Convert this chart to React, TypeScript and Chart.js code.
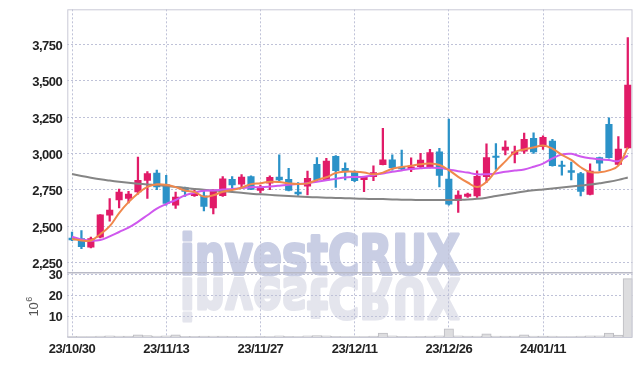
import React, { useEffect, useRef } from 'react';
import { Chart, registerables } from 'chart.js';

Chart.register(...registerables);

const dates = ['23/10/30','23/10/31','23/11/01','23/11/02','23/11/03','23/11/06','23/11/07','23/11/08','23/11/09','23/11/10',
  '23/11/13','23/11/14','23/11/15','23/11/16','23/11/17','23/11/20','23/11/21','23/11/22','23/11/23','23/11/24',
  '23/11/27','23/11/28','23/11/29','23/11/30','23/12/01','23/12/04','23/12/05','23/12/06','23/12/07','23/12/08',
  '23/12/11','23/12/12','23/12/13','23/12/14','23/12/15','23/12/18','23/12/19','23/12/20','23/12/21','23/12/22',
  '23/12/26','23/12/27','23/12/28','24/01/02','24/01/03','24/01/04','24/01/05','24/01/08','24/01/09','24/01/10',
  '24/01/11','24/01/12','24/01/15','24/01/16','24/01/17','24/01/18','24/01/19','24/01/22','24/01/23','24/01/24'];

const opens = [2418,2415,2355,2425,2575,2680,2690,2735,2815,2865,
  2785,2645,2765,2710,2708,2625,2710,2822,2788,2840,
  2745,2795,2838,2822,2735,2775,2925,2818,2980,2897,
  2868,2820,2840,2922,2955,2906,2892,2908,2908,3010,
  2823,2676,2705,2707,2840,2977,3023,2993,3015,3103,
  3046,3084,2920,2882,2862,2718,2972,3200,2925,3038];
const highs = [2460,2470,2425,2580,2690,2755,2740,2975,2875,2885,
  2850,2735,2768,2760,2740,2752,2840,2840,2855,2845,
  2782,2845,2990,2897,2800,2878,2972,2966,2985,2935,
  2880,2840,2915,3172,2990,3022,2970,3000,3028,3035,
  3235,2743,2728,2880,3065,3068,3087,3050,3140,3142,
  3120,3096,2947,2940,2870,2928,2975,3245,3115,3795];
const lows = [2400,2345,2350,2420,2535,2625,2660,2720,2690,2750,
  2645,2622,2705,2705,2605,2585,2705,2765,2770,2750,
  2728,2750,2805,2742,2712,2714,2805,2815,2767,2817,
  2805,2737,2812,2920,2885,2885,2875,2895,2900,2770,
  2645,2595,2698,2698,2800,2890,2990,2935,3000,3000,
  3028,2912,2850,2817,2708,2715,2880,2968,2920,3035];
const closes = [2405,2360,2415,2578,2610,2735,2720,2815,2862,2770,
  2657,2700,2738,2725,2635,2748,2825,2783,2838,2752,
  2768,2835,2818,2745,2722,2828,2818,2947,2882,2874,
  2812,2835,2868,2955,2902,2893,2908,2954,3005,2848,
  2652,2714,2720,2843,2972,2972,3043,3010,3096,3010,
  3110,2915,2910,2870,2738,2878,2932,2970,3030,3470];

const ma5 = [2412,2402,2402,2445,2500,2590,2665,2725,2770,2788,
  2784,2768,2745,2735,2703,2712,2737,2748,2764,2789,
  2795,2805,2803,2794,2789,2794,2817,2836,2865,2874,
  2874,2869,2856,2868,2894,2906,2915,2926,2931,2920,
  2885,2839,2800,2769,2805,2880,2945,3008,3027,3040,
  3054,3032,2990,2955,2905,2872,2870,2883,2916,3040];
const ma20 = [2427,2409,2400,2405,2430,2460,2490,2530,2575,2620,
  2652,2680,2712,2730,2743,2745,2752,2756,2762,2768,
  2768,2772,2778,2785,2790,2795,2805,2815,2825,2835,
  2838,2840,2850,2862,2874,2883,2893,2898,2902,2900,
  2890,2878,2868,2856,2857,2862,2874,2882,2890,2908,
  2930,2966,2992,2997,2978,2966,2960,2954,2947,2985];
const ma60 = [2858,2845,2833,2822,2813,2805,2798,2792,2787,2782,
  2776,2770,2763,2756,2750,2745,2740,2735,2730,2722,
  2719,2715,2711,2707,2704,2701,2698,2696,2694,2692,
  2690,2688,2687,2686,2684,2682,2681,2680,2680,2680,
  2680,2681,2683,2688,2696,2707,2717,2728,2738,2746,
  2752,2758,2765,2772,2779,2786,2795,2805,2818,2835];

// volume in millions of shares
const volumes = [0.3,0.2,0.2,0.5,0.6,0.5,0.4,1.0,0.7,0.5,
  0.6,1.0,0.3,0.3,0.4,0.5,0.4,0.3,0.2,0.2,
  0.3,0.2,0.6,0.3,0.2,0.6,0.7,0.6,0.3,0.2,
  0.2,0.2,0.4,1.9,0.6,0.3,0.2,0.3,0.5,0.6,
  3.9,0.6,0.4,0.5,1.5,0.5,0.4,0.4,1.0,0.5,
  0.4,0.5,0.2,0.2,0.5,0.6,0.6,1.9,0.9,28.0];

const priceTicks = [2250, 2500, 2750, 3000, 3250, 3500, 3750];
const volumeTicks = [10, 20, 30];

const RED = '#e11b68';
const BLUE = '#2b92c8';
const GRID = '#bfc2d8';
const FRAME = '#c9cad6';
const TEXT = '#222222';
const TICK_FONT = { family: '"Liberation Sans", Arial, sans-serif', size: 13, weight: 'bold' as const };

const noPad = (s: any) => {
  s.paddingTop = 0;
  s.paddingBottom = 0;
  s.paddingLeft = 0;
  s.paddingRight = 0;
};

const decorPlugin = {
  id: 'decor',
  beforeDraw(chart: any) {
    const c = chart.ctx as CanvasRenderingContext2D;
    c.save();
    (c as any).letterSpacing = '0px';
    c.font = 'bold 56px "DejaVu Sans", sans-serif';
    const text = 'investCRUX';
    const w = c.measureText(text).width;
    const sx = 280 / w;
    c.textBaseline = 'alphabetic';
    c.textAlign = 'left';
    c.lineJoin = 'round';
    c.save();
    c.translate(180, 274);
    c.scale(sx, 1);
    c.fillStyle = '#c9cee4';
    c.strokeStyle = '#c9cee4';
    c.lineWidth = 3;
    c.fillText(text, 0, 0);
    c.strokeText(text, 0, 0);
    c.restore();
    c.save();
    c.translate(180, 279);
    c.scale(sx, -1);
    c.fillStyle = '#e4e5ed';
    c.strokeStyle = '#e4e5ed';
    c.lineWidth = 3;
    c.fillText(text, 0, 0);
    c.strokeText(text, 0, 0);
    c.restore();
    c.restore();
    (c as any).letterSpacing = '-0.5px';
  },
  afterDatasetsDraw(chart: any) {
    const c = chart.ctx as CanvasRenderingContext2D;
    const a = chart.chartArea;
    const yScale = chart.scales.y;
    c.save();
    (c as any).letterSpacing = '0px';
    c.strokeStyle = FRAME;
    c.lineWidth = 1;
    c.strokeRect(a.left + 0.5, a.top + 0.5, a.right - a.left - 1, a.bottom - a.top);
    c.strokeStyle = '#b9bac6';
    c.lineWidth = 1.5;
    c.beginPath();
    c.moveTo(a.left, yScale.bottom);
    c.lineTo(a.right, yScale.bottom);
    c.stroke();
    // volume unit title
    const v = chart.scales.yVol;
    const cy = (v.top + v.bottom) / 2 + 2;
    c.translate(37.5, cy);
    c.rotate(-Math.PI / 2);
    c.fillStyle = '#555555';
    c.textBaseline = 'alphabetic';
    c.textAlign = 'left';
    c.font = '13px "Liberation Sans", Arial, sans-serif';
    const w10 = c.measureText('10').width;
    c.font = '9px "Liberation Sans", Arial, sans-serif';
    const w6 = c.measureText('6').width;
    const x0 = -(w10 + w6) / 2;
    c.font = '13px "Liberation Sans", Arial, sans-serif';
    c.fillText('10', x0, 0);
    c.font = '9px "Liberation Sans", Arial, sans-serif';
    c.fillText('6', x0 + w10 + 0.5, -6);
    c.restore();
  },
};

export default function App() {
  const ref = useRef<HTMLCanvasElement>(null);
  useEffect(() => {
    const canvas = ref.current;
    if (!canvas) return;
    const colors = closes.map((c, i) => (c >= opens[i] ? RED : BLUE));
    const chart = new Chart(canvas, {
      data: {
        labels: dates,
        datasets: [
          { type: 'line', label: 'MA5', data: ma5, borderColor: '#f0884c', borderWidth: 2, pointRadius: 0, tension: 0.4, yAxisID: 'y', order: 0 } as any,
          { type: 'line', label: 'MA20', data: ma20, borderColor: '#cf58ee', borderWidth: 2, pointRadius: 0, tension: 0.4, yAxisID: 'y', order: 0 } as any,
          { type: 'line', label: 'MA60', data: ma60, borderColor: '#858585', borderWidth: 2, pointRadius: 0, tension: 0.4, yAxisID: 'y', order: 0 } as any,
          { type: 'bar', label: 'body', data: opens.map((o, i) => [o, closes[i]]), backgroundColor: colors, barThickness: 6.5, minBarLength: 1.5, grouped: false, yAxisID: 'y', order: 1 } as any,
          { type: 'bar', label: 'wick', data: lows.map((l, i) => [l, highs[i]]), backgroundColor: colors, barThickness: 1.6, grouped: false, yAxisID: 'y', order: 2 } as any,
          { type: 'bar', label: 'volume', data: volumes, backgroundColor: '#dddddf', borderColor: '#bdbdc2', borderWidth: 1, barPercentage: 1, categoryPercentage: 1, grouped: false, yAxisID: 'yVol', order: 3 } as any,
        ],
      },
      options: {
        animation: false,
        responsive: true,
        maintainAspectRatio: false,
        layout: { padding: { top: 9.3, right: 9.5, left: 0, bottom: 0 } },
        plugins: { legend: { display: false }, tooltip: { enabled: false } },
        scales: {
          x: {
            type: 'category',
            offset: true,
            grid: {
              offset: false,
              drawTicks: false,
              color: (ctx: any) => (ctx.index % 10 === 0 ? GRID : 'rgba(0,0,0,0)'),
            },
            border: { display: false, dash: [2, 2] },
            ticks: {
              autoSkip: false,
              maxRotation: 0,
              minRotation: 0,
              padding: 5,
              color: TEXT,
              font: TICK_FONT,
              callback: (_v: any, i: number) => (i % 10 === 0 ? dates[i] : ''),
            },
            afterFit: (s: any) => { s.height = 29; noPad(s); },
          },
          yVol: {
            position: 'left',
            stack: 'panes',
            stackWeight: 1,
            weight: 1,
            min: 0,
            max: 30.8,
            afterBuildTicks: (axis: any) => { axis.ticks = volumeTicks.map((v) => ({ value: v })); },
            grid: { color: GRID, drawTicks: false },
            border: { display: false, dash: [2, 2] },
            ticks: { autoSkip: false, padding: 5, color: TEXT, font: TICK_FONT, labelOffset: 1 },
            afterFit: (s: any) => { s.width = 67.3; noPad(s); },
          },
          y: {
            position: 'left',
            stack: 'panes',
            stackWeight: 4.1,
            weight: 2,
            min: 2180,
            max: 3990,
            afterBuildTicks: (axis: any) => { axis.ticks = priceTicks.map((v) => ({ value: v })); },
            grid: { color: GRID, drawTicks: false },
            border: { display: false, dash: [2, 2] },
            ticks: {
              autoSkip: false,
              padding: 5,
              color: TEXT,
              font: TICK_FONT,
              labelOffset: 2,
              callback: (v: any) => Number(v).toLocaleString('en-US'),
            },
            afterFit: (s: any) => { s.width = 67.3; noPad(s); },
          },
        } as any,
      },
      plugins: [decorPlugin],
    } as any);
    return () => chart.destroy();
  }, []);
  return (
    <div style={{ position: 'fixed', left: 0, top: 0, width: 642, height: 366, background: '#fff' }}>
      <canvas ref={ref} />
    </div>
  );
}
